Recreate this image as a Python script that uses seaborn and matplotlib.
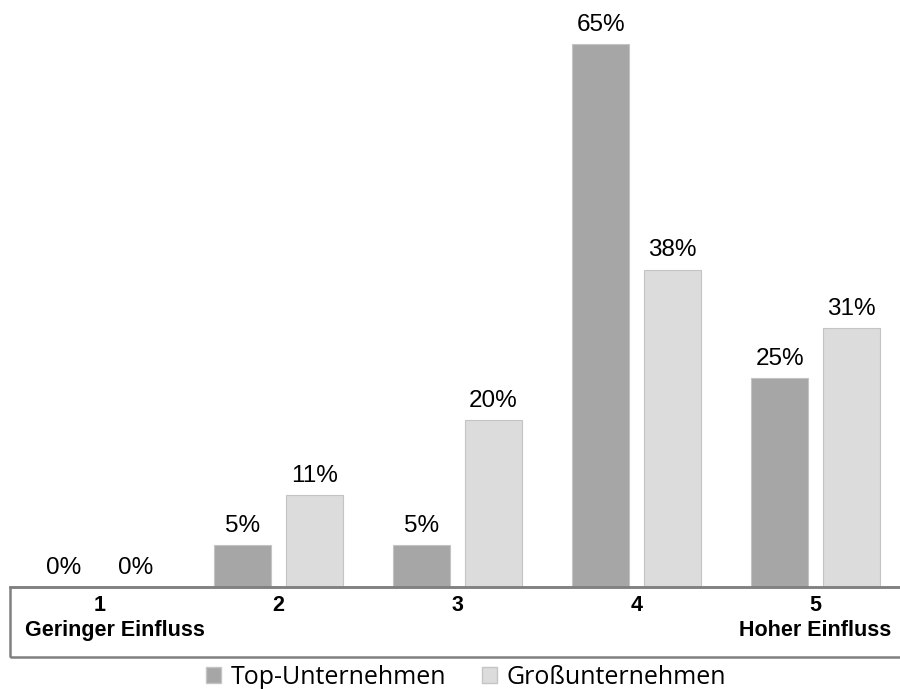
import pandas as pd
import numpy as np
import seaborn as sns
import matplotlib.pyplot as plt
from matplotlib.patches import Rectangle

# Werte
kategorien = ["1", "2", "3", "4", "5"]
unterzeilen = {"1": "Geringer Einfluss", "5": "Hoher Einfluss"}
top_unternehmen = [0, 5, 5, 65, 25]
grossunternehmen = [0, 11, 20, 38, 31]
serien = ["Top-Unternehmen", "Großunternehmen"]

df = pd.DataFrame({
    "Kategorie": kategorien * 2,
    "Wert": top_unternehmen + grossunternehmen,
    "Gruppe": [serien[0]] * 5 + [serien[1]] * 5,
})

sns.set_style("white")
plt.rcParams['font.family'] = ['Liberation Sans', 'DejaVu Sans']

fig = plt.figure(figsize=(9, 6.89), dpi=100)
ax = fig.add_axes([10 / 900, (689 - 587) / 689, 895 / 900, 577 / 689])

farben = {serien[0]: "#a6a6a6", serien[1]: "#dcdcdc"}
sns.barplot(data=df, x="Kategorie", y="Wert", hue="Gruppe", order=kategorien,
            palette=farben, width=0.8, gap=0.2, ax=ax, legend=False,
            edgecolor="#c4c4c4", linewidth=0.8)

for c in ax.containers:
    ax.bar_label(c, fmt="%d%%", padding=6, fontsize=17.5, color="black")

ax.set_ylim(0, 69.1)
ax.set_xlim(-0.5, 4.5)
ax.set_xlabel("")
ax.set_ylabel("")
ax.set_yticks([])
for s in ["top", "left", "right"]:
    ax.spines[s].set_visible(False)
ax.spines["bottom"].set_color("#808080")
ax.spines["bottom"].set_linewidth(1.8)

ax.set_xticks(range(5))
ax.set_xticklabels(kategorien, fontsize=15.5, fontweight="bold", color="black")
ax.tick_params(axis="x", which="major", length=0, pad=6)
ax.set_xticks(np.arange(0.5, 4.5, 1), minor=True)
ax.tick_params(axis="x", which="minor", length=4, direction="inout", color="#808080", width=1)

# zweite Zeile der Randbeschriftungen, leicht versetzt wie im Original
versatz = {"1": 0.085, "5": 0.0}
for i, k in enumerate(kategorien):
    if k in unterzeilen:
        ax.annotate(unterzeilen[k], xy=(i + versatz[k], 0), xycoords=("data", "axes fraction"),
                    xytext=(0, -24), textcoords="offset points", ha="center", va="top",
                    fontsize=15.5, fontweight="bold", color="black")

# Rahmen um die Achsenbeschriftung
fig.add_artist(Rectangle((10 / 900, (689 - 657) / 689), 1.0, 70 / 689,
                         transform=fig.transFigure, fill=False,
                         edgecolor="#808080", linewidth=1.8))

# Legende
handles = [plt.Rectangle((0, 0), 1, 1, facecolor=farben[s], edgecolor="#c4c4c4") for s in serien]
fig.legend(handles, serien, loc="center", bbox_to_anchor=(466 / 900, (689 - 677) / 689),
           ncol=2, frameon=False, prop={"family": "Open Sans", "size": 18},
           handlelength=0.6, handleheight=0.6, handletextpad=0.4, columnspacing=1.4,
           borderpad=0, labelcolor="black")

fig.savefig("out.png", dpi=100)
